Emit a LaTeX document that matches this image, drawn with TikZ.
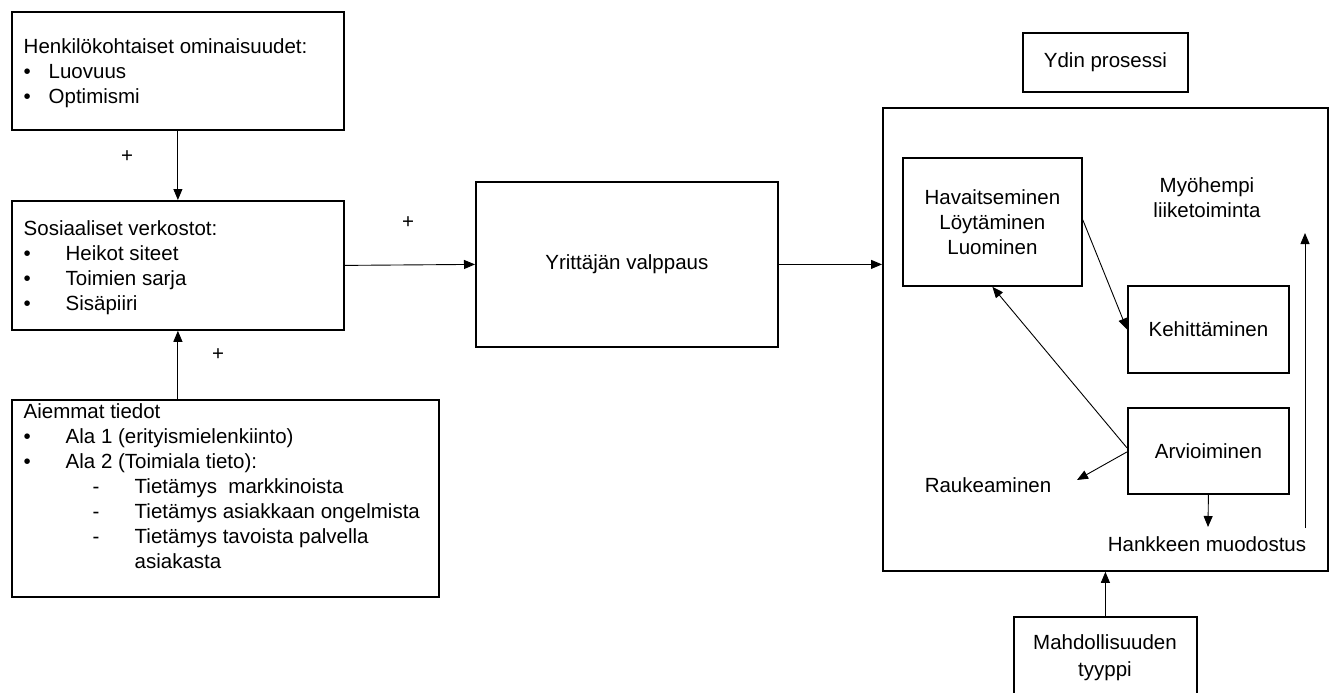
\documentclass[tikz,border=0pt]{standalone}
\usepackage{fontspec}
\setmainfont{Liberation Sans}
\usetikzlibrary{arrows.meta}
\begin{document}
\begin{tikzpicture}[x=1pt,y=-1pt,
  box/.style={draw, line width=1.8pt, inner sep=0pt, align=center,
              font=\fontsize{20.5}{25}\selectfont},
  lbl/.style={inner sep=0pt, align=center, font=\fontsize{20.5}{25}\selectfont},
  list/.style={lbl, align=left, anchor=north west},
  conn/.style={line width=0.9pt, -{Triangle[length=11pt,width=9pt]}},
]
\clip (0,0) rectangle (1333,693);

% left column
\node[box, anchor=north west, minimum width=332pt, minimum height=118pt] (hk) at (11,11) {};
\node[list] (hkt) at (23.5,38) {Henkilökohtaiset ominaisuudet:\\
  \makebox[25pt][l]{•}Luovuus\\
  \makebox[25pt][l]{•}Optimismi};

\node[box, anchor=north west, minimum width=332pt, minimum height=129pt] (sv) at (11,200) {};
\node[list] (svt) at (23.5,220) {Sosiaaliset verkostot:\\
  \makebox[42pt][l]{•}Heikot siteet\\
  \makebox[42pt][l]{•}Toimien sarja\\
  \makebox[42pt][l]{•}Sisäpiiri};

\node[box, anchor=north west, minimum width=427pt, minimum height=197pt] (ai) at (11,399) {};
\node[list] (ait) at (23.5,403) {Aiemmat tiedot\\
  \makebox[42pt][l]{•}Ala 1 (erityismielenkiinto)\\
  \makebox[42pt][l]{•}Ala 2 (Toimiala tieto):\\
  \hspace*{69pt}\makebox[42pt][l]{-}Tietämys\ \ markkinoista\\
  \hspace*{69pt}\makebox[42pt][l]{-}Tietämys asiakkaan ongelmista\\
  \hspace*{69pt}\makebox[42pt][l]{-}Tietämys tavoista palvella\\
  \hspace*{111pt}asiakasta};

% middle
\node[box, anchor=north west, minimum width=302pt, minimum height=165pt] (yv) at (475,181) {Yrittäjän valppaus};

% right column: core process
\node[box, anchor=north west, minimum width=165pt, minimum height=59pt] (ydin) at (1022,32) {Ydin prosessi};
\node[box, anchor=north west, minimum width=445pt, minimum height=463pt] (ydinbox) at (882,107) {};

\node[box, anchor=north west, minimum width=179pt, minimum height=128pt] (hav) at (902,157)
  {Havaitseminen\\Löytäminen\\Luominen};
\node[box, anchor=north west, minimum width=161pt, minimum height=87pt] (keh) at (1127,285) {Kehittäminen};
\node[box, anchor=north west, minimum width=161pt, minimum height=86pt] (arv) at (1127,407) {Arvioiminen};

\node[lbl, anchor=base] (myo) at (1207,217) {Myöhempi\\liiketoiminta};
\node[lbl, anchor=base] (rauk) at (988,492) {Raukeaminen};
\node[lbl, anchor=base] (hank) at (1207,551) {Hankkeen muodostus};

\node[box, anchor=north west, minimum width=183pt, minimum height=100pt] (mahd) at (1013,616) {};
\node[lbl, anchor=base, font=\fontsize{20.5}{27}\selectfont] (mahdt) at (1105,676) {Mahdollisuuden\\tyyppi};

% plus signs
\node[lbl] (p1) at (127,157) {+};
\node[lbl] (p2) at (408,223) {+};
\node[lbl] (p3) at (218,355) {+};

% free ends of connectors
\coordinate (raukend) at (1077,480);
\coordinate (hankend) at (1208,527);
\coordinate (upstart) at (1305,528);
\coordinate (upend) at (1305,233);

% connectors
\draw[conn] (hk.south) -- (sv.north);
\draw[conn] (ai.north -| sv.south) -- (sv.south);
\draw[conn] (sv.east) -- (yv.west);
\draw[conn] (yv.east) -- (yv.east -| ydinbox.west);
\draw[conn] (mahd.north) -- (mahd.north |- ydinbox.south);
\draw[conn] ([yshift=2pt]hav.east) -- (keh.west);
\draw[conn] ([yshift=3pt]arv.west) -- (hav.south);
\draw[conn] ([yshift=-1pt]arv.west) -- (raukend);
\draw[conn] (arv.south) -- (hankend);
\draw[conn] (upstart) -- (upend);
\end{tikzpicture}
\end{document}
